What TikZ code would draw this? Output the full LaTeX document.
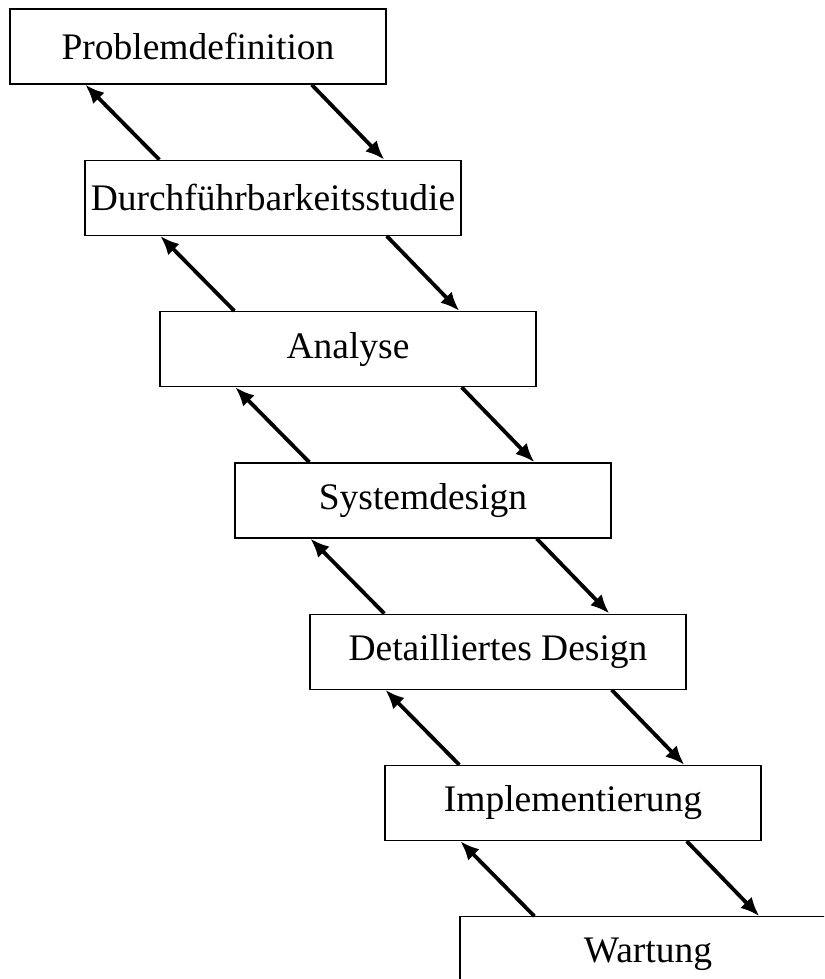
\documentclass[tikz,border=0pt]{standalone}
\usepackage{fontspec}
\setmainfont{Liberation Serif}
\usetikzlibrary{positioning,arrows.meta}

\tikzset{
  phase/.style={draw, line width=1.3pt, minimum width=376pt, minimum height=75pt, inner sep=0pt,
    font=\fontsize{37.5}{44}\selectfont},
  arr/.style={line width=3.8pt, -{Latex[length=19pt,width=16pt]}}
}

\begin{document}
\begin{tikzpicture}
\clip (-198pt,46.5pt) rectangle (626pt,-932.5pt);
\node[phase] (prob) at (0,0) {Problemdefinition}; \node[phase, below=75pt of prob, xshift=75pt] (durch) {Durchführbarkeitsstudie}; \node[phase, below=75pt of durch, xshift=75pt] (ana) {Analyse};
\node[phase, below=75pt of ana, xshift=75pt] (sys) {Systemdesign}; \node[phase, below=75pt of sys, xshift=75pt] (det) {Detailliertes Design}; \node[phase, below=75pt of det, xshift=75pt] (impl) {Implementierung};
\node[phase, below=75pt of impl, xshift=75pt] (wart) {Wartung};
% zurueck
\draw[arr] ([xshift=75pt]durch.north west) -- ([xshift=76pt]prob.south west);
\draw[arr] ([xshift=75pt]ana.north west) -- ([xshift=76pt]durch.south west);
\draw[arr] ([xshift=75pt]sys.north west) -- ([xshift=76pt]ana.south west);
\draw[arr] ([xshift=75pt]det.north west) -- ([xshift=76pt]sys.south west);
\draw[arr] ([xshift=75pt]impl.north west) -- ([xshift=76pt]det.south west);
\draw[arr] ([xshift=75pt]wart.north west) -- ([xshift=76pt]impl.south west);
% weiter
\draw[arr] ([xshift=-75pt]prob.south east) -- ([xshift=300pt]durch.north west);
\draw[arr] ([xshift=-75pt]durch.south east) -- ([xshift=300pt]ana.north west);
\draw[arr] ([xshift=-75pt]ana.south east) -- ([xshift=300pt]sys.north west);
\draw[arr] ([xshift=-75pt]sys.south east) -- ([xshift=300pt]det.north west);
\draw[arr] ([xshift=-75pt]det.south east) -- ([xshift=300pt]impl.north west);
\draw[arr] ([xshift=-75pt]impl.south east) -- ([xshift=300pt]wart.north west);
\end{tikzpicture}
\end{document}
